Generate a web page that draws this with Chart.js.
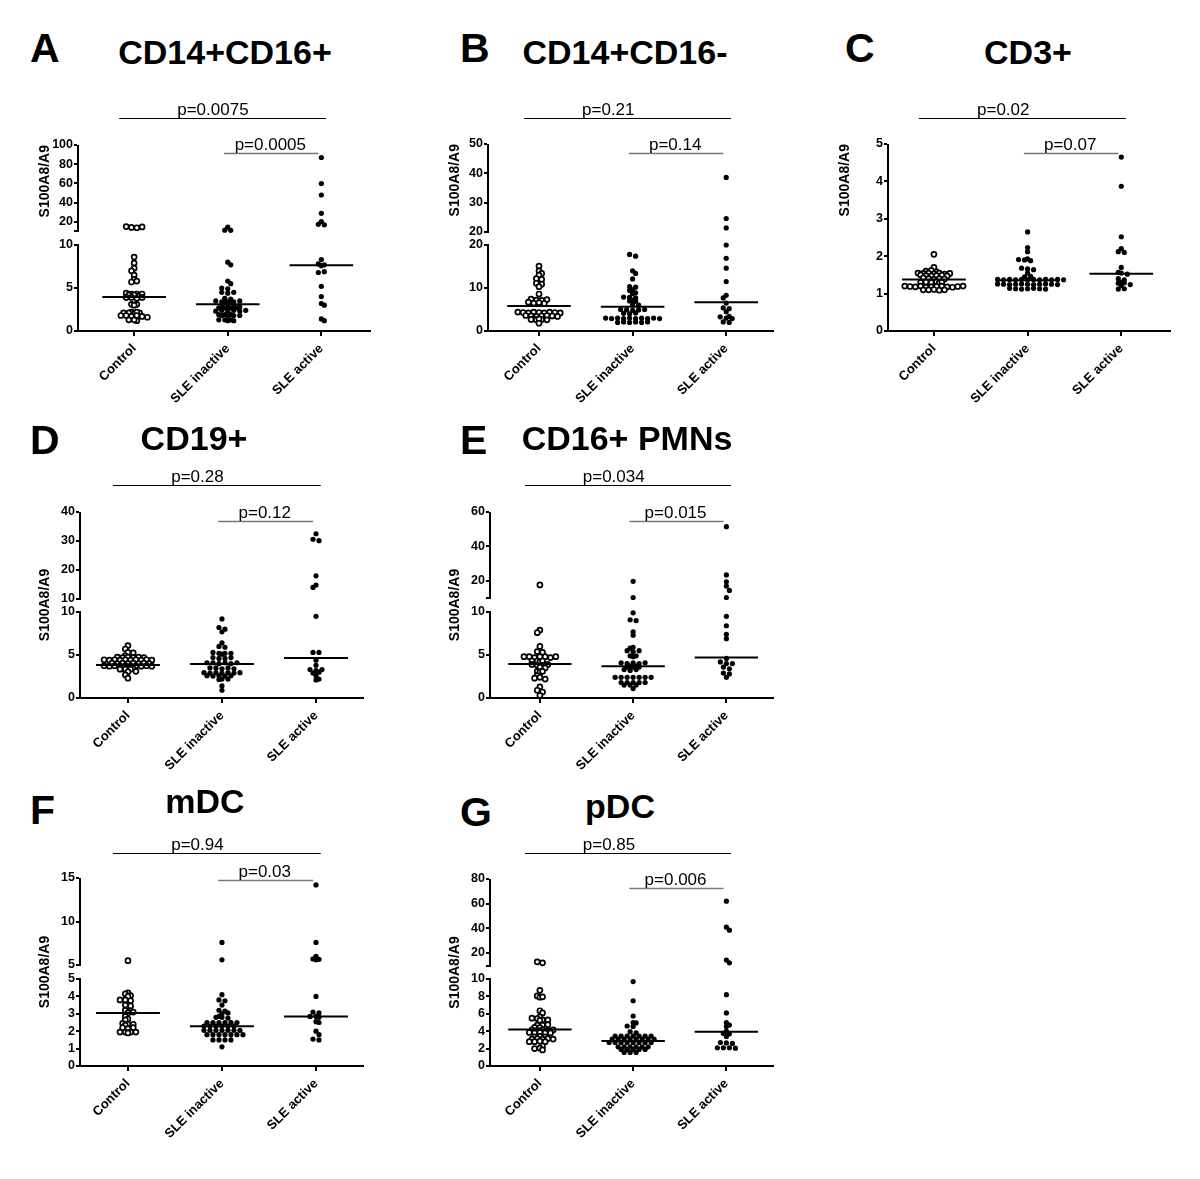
<!DOCTYPE html>
<html>
<head>
<meta charset="utf-8">
<script src="https://cdn.jsdelivr.net/npm/chart.js@4.4.0/dist/chart.umd.min.js"></script>
<style>
  body { margin: 0; width: 1200px; height: 1179px; background: #fff; position: relative; overflow: hidden;
         font-family: Arial, "Liberation Sans", sans-serif; }
  canvas { position: absolute; }
  .letter { position: absolute; font-weight: bold; font-size: 41px; line-height: 1; transform: translateY(-50%); }
  .title { position: absolute; font-weight: bold; font-size: 34px; line-height: 1; white-space: nowrap; transform: translate(-50%, -50%); }
</style>
</head>
<body>
<script>
const groups = ['Control', 'SLE inactive', 'SLE active'];

// A  CD14+CD16+
const aControl = [15.2, 14.3, 14.0, 14.8, 8.6, 7.9, 7.3, 7.0, 6.5, 6.0, 5.7, 5.8, 4.4, 4.3, 4.3, 4.2, 4.2, 4.1, 4.3,
  3.9, 3.9, 3.8, 3.9, 3.1, 3.1, 3.0, 2.2, 2.1, 2.1, 2.0, 2.1, 2.2, 1.8, 1.8, 1.7, 1.8, 1.7, 1.6, 1.3, 1.2, 1.3];
const aInactive = [14.6, 11.5, 11.3, 8.0, 7.7, 5.8, 5.5, 5.0, 4.9, 4.5, 4.4, 4.5, 3.8, 3.7, 3.5, 3.4, 3.4, 3.3, 3.4,
  3.5, 3.3, 2.8, 2.7, 2.8, 2.7, 2.8, 2.7, 2.8, 2.7, 2.3, 2.4, 2.3, 2.4, 2.3, 2.4, 1.9, 1.8, 1.9, 1.8, 1.8, 1.9, 1.8,
  1.3, 1.2, 1.3, 1.2, 1.3];
const aActive = [87, 60, 48, 29, 20.5, 17.5, 17, 8.3, 7.8, 7.7, 7.6, 6.8, 6.9, 5.2, 4.0, 3.2, 3.0, 1.4, 1.2];
const aMedian = [3.95, 3.1, 7.65];
const aTicksLo = [0, 5, 10];
const aTicksHi = [10.6, 20, 40, 60, 80, 100];
const aLabelsHi = ['', '20', '40', '60', '80', '100'];
const aP = ['p=0.0075', 'p=0.0005'];

// B  CD14+CD16-
const bControl = [15.1, 14.0, 13.4, 13.0, 12.2, 12.0, 11.1, 10.9, 10.3, 8.6, 7.4, 7.2, 7.1, 7.3, 6.7, 6.5, 6.6, 6.4,
  4.4, 4.3, 4.2, 4.4, 4.3, 4.2, 4.4, 4.3, 4.2, 3.6, 3.5, 3.4, 3.5, 3.6, 3.5, 3.4, 2.8, 2.7, 2.6, 2.7, 2.8, 2.6, 1.8];
const bInactive = [17.8, 17.4, 14.0, 13.4, 12.1, 10.3, 10.2, 9.6, 9.4, 8.9, 8.7, 7.9, 7.8, 7.7, 7.0, 7.1, 6.9, 6.1,
  6.0, 5.0, 4.9, 4.8, 4.9, 5.0, 4.1, 4.0, 4.2, 3.0, 2.9, 3.0, 2.9, 3.0, 2.9, 3.0, 2.9, 3.0, 2.9, 2.0, 2.1, 2.0, 2.1,
  2.0, 2.1];
const bActive = [38.6, 24.6, 21.4, 20.0, 16.9, 14.6, 11.5, 8.3, 7.7, 6.5, 5.4, 5.2, 4.5, 3.4, 3.3, 3.0, 2.9, 2.1, 2.0];
const bMedian = [5.8, 5.65, 6.7];
const bTicksLo = [0, 10, 20];
const bTicksHi = [20, 30, 40, 50];
const bLabelsHi = ['20', '30', '40', '50'];
const bP = ['p=0.21', 'p=0.14'];

// C  CD3+
const cControl = [2.05, 1.7, 1.6, 1.62, 1.58, 1.55, 1.54, 1.55, 1.53, 1.55, 1.52, 1.54, 1.5, 1.48, 1.47, 1.48, 1.49,
  1.47, 1.42, 1.4, 1.38, 1.4, 1.39, 1.3, 1.31, 1.29, 1.3, 1.32, 1.28, 1.3, 1.2, 1.19, 1.18, 1.2, 1.17, 1.18, 1.19,
  1.2, 1.18, 1.17, 1.19, 1.2, 1.1, 1.1, 1.11, 1.09, 1.1];
const cInactive = [2.65, 2.23, 2.12, 1.93, 1.91, 1.9, 1.88, 1.68, 1.66, 1.64, 1.55, 1.45, 1.46,
  1.38, 1.37, 1.38, 1.37, 1.38, 1.37, 1.38, 1.37, 1.38, 1.37, 1.38, 1.37,
  1.26, 1.25, 1.24, 1.25, 1.26, 1.25, 1.24, 1.25, 1.26, 1.25, 1.24,
  1.14, 1.13, 1.12, 1.13, 1.14, 1.13, 1.12];
const cActive = [4.65, 3.87, 2.52, 2.2, 2.12, 2.1, 1.7, 1.57, 1.55, 1.52, 1.4, 1.37, 1.3, 1.28, 1.29, 1.24, 1.22,
  1.12, 1.13];
const cMedian = [1.38, 1.36, 1.53];
const cTicksLo = [0, 1, 2, 3, 4, 5];
const cP = ['p=0.02', 'p=0.07'];

// D  CD19+
const dControl = [6.1, 5.7, 5.3, 5.25, 4.9, 4.75, 4.7, 4.75, 4.7, 4.75, 4.7, 4.45, 4.4, 4.45, 4.4, 4.45, 4.4, 4.45,
  4.4, 4.45, 4.4, 4.05, 4.0, 4.05, 4.0, 4.05, 4.0, 4.05, 4.0, 3.75, 3.7, 3.75, 3.7, 3.75, 3.7, 3.75, 3.7, 3.75, 3.7,
  3.4, 3.35, 3.4, 3.35, 3.4, 3.35, 3.1, 3.05, 2.7, 2.3];
const dInactive = [9.2, 8.2, 8.0, 7.7, 6.4, 6.0, 5.9, 5.3, 5.2, 5.2, 5.1, 5.2, 4.7, 4.6, 4.6, 4.7, 4.1, 4.1, 4.0,
  4.1, 4.0, 4.1, 3.5, 3.5, 3.4, 3.5, 3.4, 2.95, 2.9, 2.95, 2.9, 2.95, 2.9, 2.95, 2.6, 2.55, 2.6, 2.55, 2.6, 2.2,
  2.15, 2.2, 1.4, 0.9];
const dActive = [32.5, 30.6, 30.1, 18.0, 14.8, 14.0, 9.5, 5.3, 5.3, 4.4, 3.8, 3.3, 3.2, 3.3, 2.9, 3.0, 2.6, 2.2, 2.1];
const dMedian = [3.85, 3.95, 4.65];
const dTicksLo = [0, 5, 10];
const dTicksHi = [10, 20, 30, 40];
const dLabelsHi = ['10', '20', '30', '40'];
const dP = ['p=0.28', 'p=0.12'];

// E  CD16+ PMNs
const eControl = [17.7, 7.9, 7.6, 6.0, 5.4, 5.3, 4.8, 4.8, 4.7, 4.8, 4.8, 4.7, 4.8, 4.3, 4.3, 4.2, 4.3, 3.9, 3.8,
  3.8, 3.9, 3.6, 3.5, 3.1, 3.0, 3.1, 2.6, 2.3, 2.4, 2.2, 1.3, 0.9, 0.7, 0.3];
const eInactive = [19.8, 10.4, 9.9, 9.1, 9.0, 7.7, 7.3, 5.9, 5.8, 5.5, 5.4, 5.5, 4.9, 4.8, 4.9, 4.1, 4.0, 4.1, 4.0,
  4.1, 3.7, 3.6, 3.7, 3.6, 3.6, 3.3, 3.2, 3.3, 2.4, 2.4, 2.4, 2.4, 2.4, 2.4, 2.4, 1.8, 1.8, 1.8, 1.8, 1.8, 1.5, 1.5,
  1.5, 1.1];
const eActive = [51.5, 23.5, 19.5, 17, 14.5, 10.4, 9.5, 8.4, 7.4, 6.9, 4.6, 4.2, 4.0, 4.0, 3.6, 3.4, 2.9, 2.8, 2.4];
const eMedian = [3.95, 3.7, 4.7];
const eTicksLo = [0, 5, 10];
const eTicksHi = [10.1, 20, 40, 60];
const eLabelsHi = ['', '20', '40', '60'];
const eP = ['p=0.034', 'p=0.015'];

// F  mDC
const fControl = [5.5, 4.2, 4.15, 4.05, 4.0, 3.8, 3.8, 3.75, 3.5, 3.45, 3.2, 3.15, 3.05, 3.1, 2.85, 2.7, 2.65, 2.45,
  2.4, 2.4, 2.35, 2.2, 2.15, 2.2, 1.95, 1.95, 1.95, 1.9, 1.95];
const fInactive = [7.6, 5.6, 4.1, 3.8, 3.75, 3.5, 3.2, 3.15, 3.0, 3.05, 2.8, 2.8, 2.85, 2.75, 2.5, 2.5, 2.5, 2.5,
  2.5, 2.5, 2.3, 2.3, 2.3, 2.3, 2.3, 2.3, 2.05, 2.05, 2.05, 2.05, 2.05, 2.05, 2.05, 1.8, 1.8, 1.8, 1.8, 1.8, 1.8,
  1.8, 1.5, 1.5, 1.5, 1.5, 1.1];
const fActive = [14.2, 7.6, 6.0, 5.7, 5.65, 5.6, 4.0, 3.1, 3.05, 2.85, 2.85, 2.8, 2.55, 2.5, 2.0, 1.8, 1.55, 1.5];
const fMedian = [3.05, 2.28, 2.85];
const fTicksLo = [0, 1, 2, 3, 4, 5];
const fTicksHi = [5, 10, 15];
const fLabelsHi = ['5', '10', '15'];
const fP = ['p=0.94', 'p=0.03'];

// G  pDC
const gControl = [12.9, 12.1, 8.7, 8.05, 7.9, 7.95, 6.35, 6.1, 5.65, 5.5, 5.45, 5.3, 5.25, 5.3, 4.7, 4.7, 4.75, 4.45,
  4.4, 4.15, 4.1, 4.15, 4.1, 4.15, 3.85, 3.8, 3.85, 3.8, 3.8, 3.35, 3.4, 3.35, 3.1, 3.15, 3.1, 3.15, 3.1, 2.8, 2.8,
  2.85, 2.8, 2.3, 2.0, 2.05, 1.85];
const gInactive = [9.7, 7.5, 5.75, 5.0, 4.95, 4.6, 4.55, 3.95, 3.8, 3.45, 3.45, 3.45, 3.45, 3.45, 3.45, 3.45,
  3.1, 3.1, 3.1, 3.1, 3.1, 3.1, 3.1, 3.1, 2.7, 2.7, 2.7, 2.7, 2.7, 2.7, 2.7, 2.7, 2.2, 2.2, 2.2, 2.2, 2.2, 2.2,
  1.9, 1.9, 1.9, 1.9, 1.9, 1.55, 1.55, 1.55];
const gActive = [62, 41, 38.5, 14.3, 12.1, 8.2, 6.1, 5.0, 4.7, 4.55, 4.0, 3.75, 3.7, 3.4, 2.7, 2.65, 2.6, 2.1, 2.1,
  2.1, 2.05];
const gMedian = [4.2, 2.87, 3.95];
const gTicksLo = [0, 2, 4, 6, 8, 10];
const gTicksHi = [9.5, 20, 40, 60, 80];
const gLabelsHi = ['', '20', '40', '60', '80'];
const gP = ['p=0.85', 'p=0.006'];

// y axis with a break: lower part and upper part share one scale
const LinearScale = Chart.registry.getScale('linear');
class BrokenScale extends LinearScale {
  static id = 'broken';
  determineDataLimits() {
    this.min = this.options.min;
    this.max = this.options.max;
  }
  buildTicks() {
    const o = this.options;
    const lo = (o.ticksLo || []).map(v => ({ value: v, seg: 0, text: String(v) }));
    const hi = (o.ticksHi || []).map((v, i) => ({ value: v, seg: 1, text: o.labelsHi[i] }));
    return lo.concat(hi);
  }
  pixelFor(v, seg) {
    const b = this.options.brk;
    const H = this.bottom - this.top;
    if (!b) return this.bottom - (v - this.min) / (this.max - this.min) * H;
    if (seg === undefined) seg = v > b.lowMax ? 1 : 0;
    if (seg === 0) return this.bottom - (v - this.min) / (b.lowMax - this.min) * b.lowPx;
    const hiH = H - b.lowPx - b.gapPx;
    return this.top + (this.max - v) / (this.max - b.highMin) * hiH;
  }
  getPixelForValue(v) { return this.pixelFor(v); }
  getPixelForTick(i) {
    const t = this.ticks[i];
    return t ? this.pixelFor(t.value, t.seg) : NaN;
  }
  drawBorder() {
    const b = this.options.brk, ctx = this.ctx;
    const x = Math.round(this.right);
    ctx.save();
    ctx.strokeStyle = '#000';
    ctx.lineWidth = 2;
    ctx.beginPath();
    if (!b) {
      ctx.moveTo(x, this.top); ctx.lineTo(x, this.bottom + 1);
    } else {
      const loTop = this.bottom - b.lowPx;
      ctx.moveTo(x, this.bottom + 1); ctx.lineTo(x, loTop - 1);
      ctx.moveTo(x, loTop - b.gapPx + 1); ctx.lineTo(x, this.top);
    }
    ctx.stroke();
    ctx.restore();
  }
}
Chart.register(BrokenScale);

Chart.defaults.font.family = 'Arial, "Liberation Sans", sans-serif';
Chart.defaults.color = '#000';

// column scatter: points in the same pixel row are spread out around the column centre,
// neighbouring rows that would line up are shifted half a step
const swarmPlugin = {
  id: 'swarm',
  afterDatasetsUpdate(chart) {
    const xs = chart.scales.x;
    chart.data.datasets.forEach((ds, i) => {
      if (!ds.swarm) return;
      const cx = xs.getPixelForValue(ds.group);
      const s = ds.spacing;
      const rows = {};
      chart.getDatasetMeta(i).data.forEach(p => {
        const k = Math.round(p.y / ds.rowH);
        (rows[k] = rows[k] || []).push(p);
      });
      let prevK = null, prevPhase = null;
      Object.keys(rows).map(Number).sort((a, b) => a - b).forEach(k => {
        const r = rows[k];
        const base = (r.length - 1) / 2;
        let shift = 0;
        if (prevK !== null && k - prevK <= 1 && (base % 1) === prevPhase) shift = k % 2 ? 0.5 : -0.5;
        r.forEach((p, j) => { p.x = cx + (j - base + shift) * s; });
        prevK = k;
        prevPhase = (((base - shift) % 1) + 1) % 1;
      });
    });
  }
};

function bracketPlugin(p) {
  return {
    id: 'brackets',
    afterDraw(chart) {
      const { ctx, chartArea, scales: { x } } = chart;
      const items = [
        { from: -0.16, to: 2.05, dy: p.brY[0], color: '#000', w: 1, text: p.pv[0], at: 0.46, align: 'left' },
        { from: 0.96, to: 1.97, dy: p.brY[1], color: '#777', w: 1.5, text: p.pv[1], at: 1.455, align: 'center' }
      ];
      ctx.save();
      items.forEach(b => {
        const y = Math.round(chartArea.top + b.dy) + 0.5;
        ctx.strokeStyle = b.color;
        ctx.lineWidth = b.w;
        ctx.beginPath();
        ctx.moveTo(x.getPixelForValue(b.from), y);
        ctx.lineTo(x.getPixelForValue(b.to), y);
        ctx.stroke();
        ctx.fillStyle = '#000';
        ctx.font = '17px Arial, "Liberation Sans", sans-serif';
        ctx.textAlign = b.align;
        ctx.textBaseline = 'alphabetic';
        ctx.fillText(b.text, x.getPixelForValue(b.at), y - 4);
      });
      ctx.restore();
    }
  };
}

const panels = [
  { letter: 'A', title: 'CD14+CD16+', vals: [aControl, aInactive, aActive], med: aMedian, pv: aP,
    left: 30, yW: 48, top: 145, bottom: 331, right: 370, xMin: -0.6, xMax: 2.52, yMax: 100,
    ticksLo: aTicksLo, ticksHi: aTicksHi, labelsHi: aLabelsHi,
    brk: { lowMax: 10, highMin: 10.6, lowPx: 86, gapPx: 14 }, tAlign: 'end', brY: [-27, 8],
    lx: 30, ly: 48, tx: 225, ty: 52 },
  { letter: 'B', title: 'CD14+CD16-', vals: [bControl, bInactive, bActive], med: bMedian, pv: bP,
    left: 440, yW: 48, top: 144, bottom: 331, right: 773, xMin: -0.545, xMax: 2.5, yMax: 50,
    ticksLo: bTicksLo, ticksHi: bTicksHi, labelsHi: bLabelsHi,
    brk: { lowMax: 20, highMin: 20, lowPx: 86, gapPx: 13 }, tAlign: 'end', brY: [-26, 9],
    lx: 460, ly: 48, tx: 625, ty: 52 },
  { letter: 'C', title: 'CD3+', vals: [cControl, cInactive, cActive], med: cMedian, pv: cP,
    left: 830, yW: 58, top: 144, bottom: 331, right: 1170, xMin: -0.49, xMax: 2.52, yMax: 5,
    ticksLo: cTicksLo, ticksHi: [], labelsHi: [],
    brk: false, tAlign: 'end', brY: [-26, 9],
    lx: 845, ly: 48, tx: 1028, ty: 52 },
  { letter: 'D', title: 'CD19+', vals: [dControl, dInactive, dActive], med: dMedian, pv: dP,
    left: 30, yW: 50, top: 512, bottom: 698, right: 363, xMin: -0.51, xMax: 2.5, yMax: 40,
    ticksLo: dTicksLo, ticksHi: dTicksHi, labelsHi: dLabelsHi,
    brk: { lowMax: 10, highMin: 10, lowPx: 86, gapPx: 13 }, tAlign: 'center', brY: [-27, 9],
    lx: 30, ly: 440, tx: 194, ty: 438 },
  { letter: 'E', title: 'CD16+ PMNs', vals: [eControl, eInactive, eActive], med: eMedian, pv: eP,
    left: 440, yW: 50, top: 512, bottom: 698, right: 773, xMin: -0.535, xMax: 2.5, yMax: 60,
    ticksLo: eTicksLo, ticksHi: eTicksHi, labelsHi: eLabelsHi,
    brk: { lowMax: 10, highMin: 10.1, lowPx: 86, gapPx: 14 }, tAlign: 'center', brY: [-27, 9],
    lx: 460, ly: 440, tx: 627, ty: 438 },
  { letter: 'F', title: 'mDC', vals: [fControl, fInactive, fActive], med: fMedian, pv: fP,
    left: 30, yW: 50, top: 878, bottom: 1066, right: 363, xMin: -0.51, xMax: 2.5, yMax: 15,
    ticksLo: fTicksLo, ticksHi: fTicksHi, labelsHi: fLabelsHi,
    brk: { lowMax: 5, highMin: 5, lowPx: 87, gapPx: 14 }, tAlign: 'center', brY: [-25, 2],
    lx: 30, ly: 810, tx: 205, ty: 801 },
  { letter: 'G', title: 'pDC', vals: [gControl, gInactive, gActive], med: gMedian, pv: gP,
    left: 440, yW: 50, top: 879, bottom: 1066, right: 773, xMin: -0.535, xMax: 2.5, yMax: 80,
    ticksLo: gTicksLo, ticksHi: gTicksHi, labelsHi: gLabelsHi,
    brk: { lowMax: 10, highMin: 9.5, lowPx: 87, gapPx: 13 }, tAlign: 'center', brY: [-26, 9],
    lx: 460, ly: 812, tx: 620, ty: 806 }
];

const xGrid = { display: true, drawOnChartArea: false, drawTicks: true, tickLength: 5, lineWidth: 2, color: '#000' };
const yGrid = { display: true, drawOnChartArea: false, drawTicks: true, tickLength: 4, lineWidth: 2, color: '#000' };
const axisBorder = { display: true, color: '#000', width: 2 };

panels.forEach(p => {
  const letter = document.createElement('div');
  letter.className = 'letter';
  letter.textContent = p.letter;
  letter.style.left = p.lx + 'px';
  letter.style.top = p.ly + 'px';
  document.body.appendChild(letter);

  const title = document.createElement('div');
  title.className = 'title';
  title.textContent = p.title;
  title.style.left = p.tx + 'px';
  title.style.top = p.ty + 'px';
  document.body.appendChild(title);

  const cv = document.createElement('canvas');
  const cTop = p.top - 55;
  cv.width = p.right - p.left + 8;
  cv.height = p.bottom - cTop + 86;
  cv.style.left = p.left + 'px';
  cv.style.top = cTop + 'px';
  document.body.appendChild(cv);

  const datasets = [];
  p.med.forEach((m, g) => datasets.push({
    data: [{ x: g - 0.34, y: m }, { x: g + 0.34, y: m }],
    showLine: true, borderColor: '#000', borderWidth: 2, pointRadius: 0
  }));
  p.vals.forEach((vals, g) => datasets.push({
    swarm: true, group: g, spacing: g === 0 ? 5.3 : 6, rowH: 2.6,
    data: vals.map(v => ({ x: g, y: v })),
    pointRadius: g === 0 ? 2.5 : 2.6,
    pointBorderWidth: g === 0 ? 1.7 : 0,
    pointBackgroundColor: g === 0 ? '#fff' : '#000',
    pointBorderColor: '#000',
    showLine: false
  }));

  new Chart(cv.getContext('2d'), {
    type: 'scatter',
    data: { datasets },
    options: {
      responsive: false,
      animation: false,
      events: [],
      clip: false,
      layout: { padding: { top: 55, right: 8, bottom: 6, left: 0 } },
      plugins: { legend: { display: false }, tooltip: { enabled: false } },
      scales: {
        x: {
          type: 'linear', min: p.xMin, max: p.xMax,
          afterBuildTicks: s => { s.ticks = groups.map((_, i) => ({ value: i })); },
          afterFit: s => { s.height = 80; },
          ticks: { autoSkip: false, minRotation: 45, maxRotation: 45, padding: 5, color: '#000',
                   font: { size: 13, weight: 'bold' }, callback: v => groups[v] },
          grid: xGrid,
          border: axisBorder
        },
        y: {
          type: 'broken', min: 0, max: p.yMax, brk: p.brk,
          ticksLo: p.ticksLo, ticksHi: p.ticksHi, labelsHi: p.labelsHi,
          afterFit: s => { s.width = p.yW; },
          ticks: { autoSkip: false, padding: 1, color: '#000', font: { size: 12.5, weight: 'bold' },
                   callback: (v, i, t) => t[i].text },
          grid: yGrid,
          border: axisBorder,
          title: { display: true, text: 'S100A8/A9', color: '#000', font: { size: 14, weight: 'bold' },
                   align: p.tAlign, padding: { top: 7, bottom: 0 } }
        }
      }
    },
    plugins: [swarmPlugin, bracketPlugin(p)]
  });
});
</script>
</body>
</html>
